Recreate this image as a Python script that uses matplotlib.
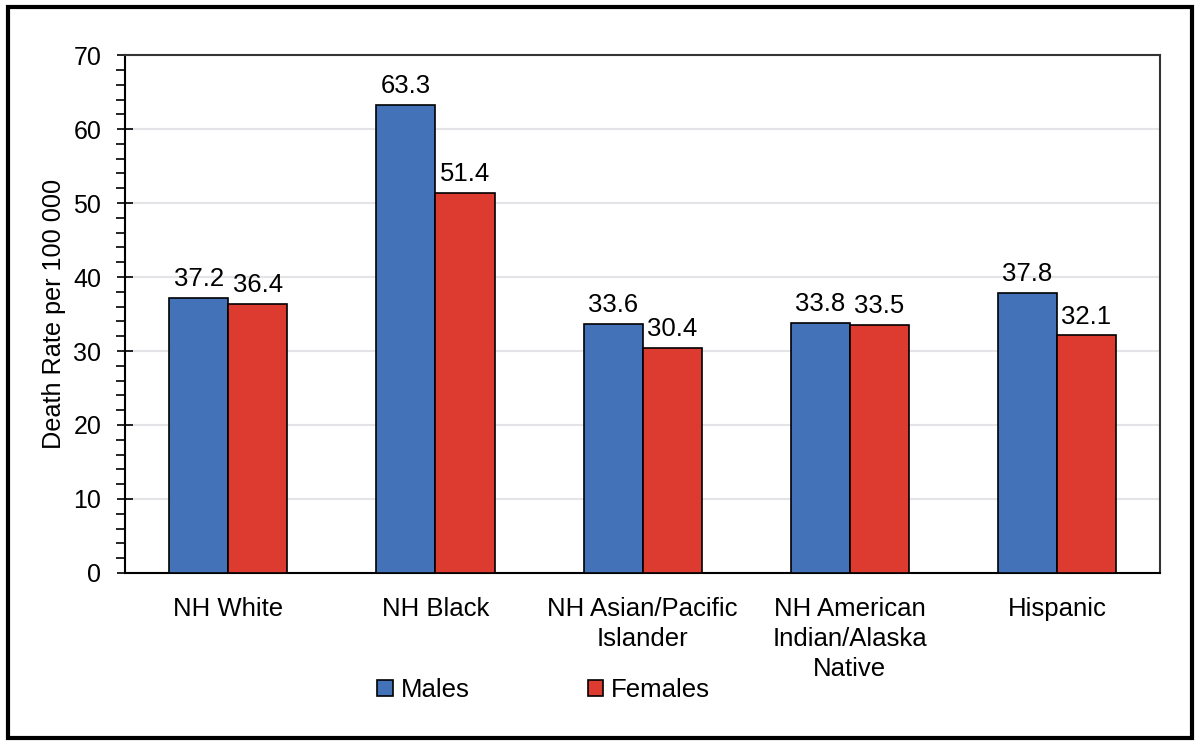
import matplotlib.pyplot as plt
from matplotlib.patches import Rectangle
from matplotlib.ticker import MultipleLocator
import numpy as np

plt.rcParams['font.family'] = ['Liberation Sans', 'DejaVu Sans']

# data
groups = ["NH White", "NH Black", "NH Asian/Pacific\nIslander",
          "NH American\nIndian/Alaska\nNative", "Hispanic"]
males = [37.2, 63.3, 33.6, 33.8, 37.8]
females = [36.4, 51.4, 30.4, 33.5, 32.1]

blue = "#4472B8"
red = "#DE3B30"

fig = plt.figure(figsize=(12, 7.45), dpi=100)
ax = fig.add_axes([0.104, 0.231, 0.863, 0.695])

x = np.arange(len(groups))
w = 0.285
b1 = ax.bar(x - w / 2, males, w, color=blue, edgecolor="black", linewidth=1.2,
            label="Males", zorder=3)
b2 = ax.bar(x + w / 2, females, w, color=red, edgecolor="black", linewidth=1.2,
            label="Females", zorder=3)

# value labels on top of bars
for bars in (b1, b2):
    for r in bars:
        ax.annotate("%.1f" % r.get_height(),
                    (r.get_x() + r.get_width() / 2, r.get_height()),
                    xytext=(0, 5), textcoords="offset points",
                    ha="center", va="bottom", fontsize=18.5)

ax.set_xlim(-0.5, len(groups) - 0.5)
ax.set_ylim(0, 70)
ax.yaxis.set_major_locator(MultipleLocator(10))
ax.yaxis.set_minor_locator(MultipleLocator(2))
ax.tick_params(axis="y", which="major", direction="inout", length=12,
               width=1.2, labelsize=18, pad=11)
ax.tick_params(axis="y", which="minor", direction="out", length=6.5, width=1.2)
ax.set_xticks(x)
ax.set_xticklabels(groups, fontsize=18.5, linespacing=1.33)
ax.tick_params(axis="x", length=0, pad=17)

ax.grid(axis="y", color="#e4e4e8", linewidth=1.5, zorder=0)
for s in ax.spines.values():
    s.set_linewidth(1.5)
    s.set_color("#333333")
ax.spines["left"].set_color("black")
ax.spines["bottom"].set_color("black")

ax.set_ylabel("Death Rate per 100 000", fontsize=18.2, labelpad=5)

fig.legend(handles=[b1, b2], labels=["Males", "Females"], loc="center",
           bbox_to_anchor=(0.453, 0.074), ncol=2, frameon=False,
           fontsize=18.5, handlelength=0.6, handleheight=0.6,
           handletextpad=0.3, columnspacing=4.6)

# outer frame around the whole picture
fig.patches.append(Rectangle((0.007, 0.01), 0.986, 0.98, transform=fig.transFigure,
                             fill=False, edgecolor="black", linewidth=3))

fig.savefig("out.png", dpi=100)
